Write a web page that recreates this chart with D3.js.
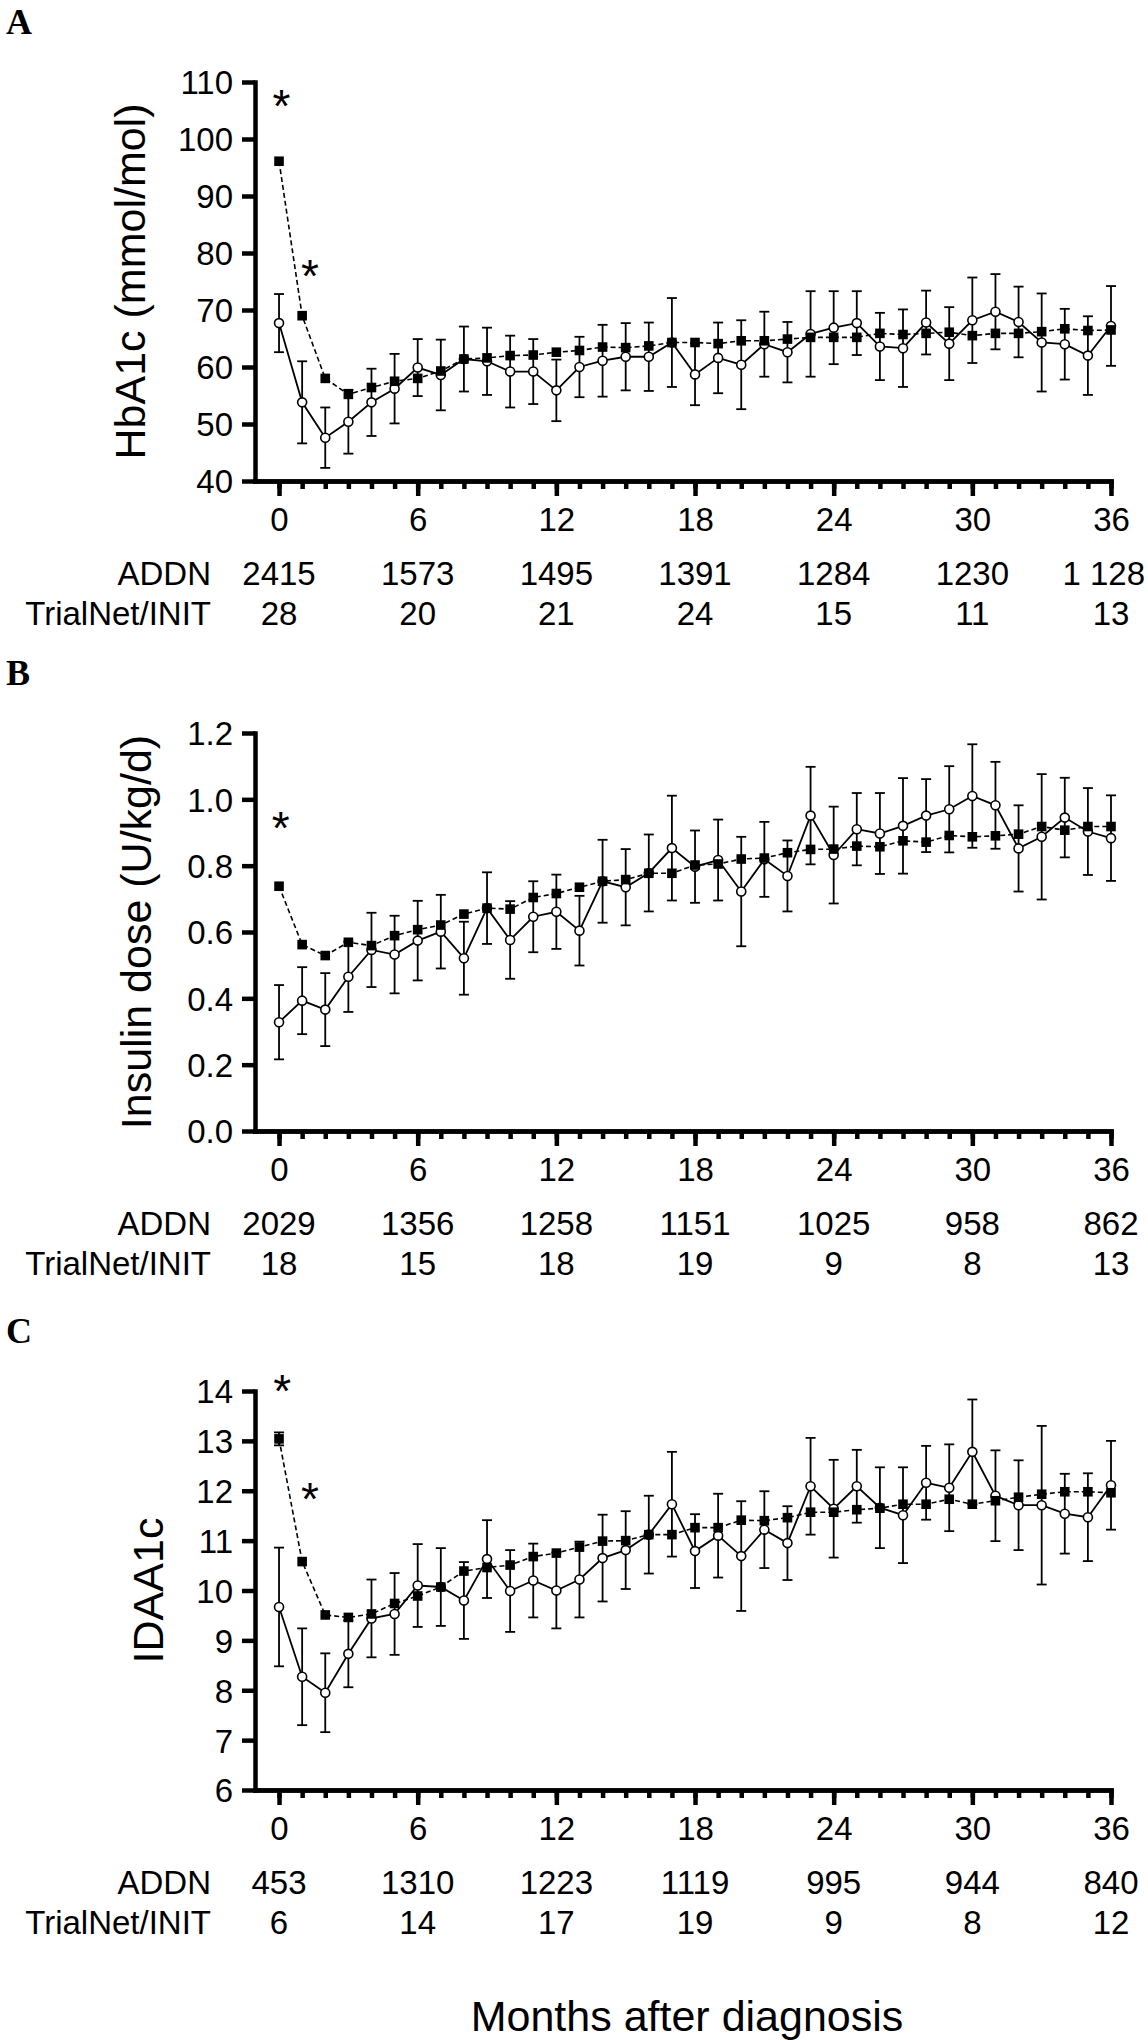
<!DOCTYPE html>
<html>
<head>
<meta charset="utf-8">
<script src="https://cdn.jsdelivr.net/npm/d3@7"></script>
<style>
  html, body { margin: 0; padding: 0; background: #fff; }
  svg { display: block; }
</style>
</head>
<body>
<div id="chart"></div>
<script>
// ---------------- DATA ----------------
const months = [0,1,2,3,4,5,6,7,8,9,10,11,12,13,14,15,16,17,18,19,20,21,22,23,24,25,26,27,28,29,30,31,32,33,34,35,36];
const labelMonths = [0, 6, 12, 18, 24, 30, 36];

// Panel A: HbA1c (mmol/mol)
const hba1cADDN = [96.1,69.0,58.0,55.2,56.4,57.5,58.0,59.3,61.4,61.6,62.0,62.1,62.6,62.9,63.5,63.4,63.7,64.3,64.3,64.1,64.6,64.6,64.9,65.2,65.2,65.2,65.9,65.7,65.9,66.1,65.5,65.9,65.9,66.2,66.7,66.4,66.5];
const hba1cTrial = [67.7,53.8,47.6,50.4,53.8,56.2,59.9,58.6,61.4,61.0,59.2,59.2,55.9,60.0,61.1,61.8,61.8,64.3,58.7,61.6,60.4,64.0,62.6,65.8,66.9,67.7,63.6,63.3,67.8,64.1,68.2,69.7,67.9,64.3,64.0,62.0,67.2];
const hba1cTrialErr = [5.1,7.2,5.3,5.6,5.9,6.1,5.0,6.2,5.7,5.9,6.3,5.7,5.4,5.3,6.3,5.9,6.0,7.8,5.4,6.2,7.8,5.7,5.3,7.5,6.4,5.6,5.9,6.8,5.6,6.4,7.5,6.6,6.2,8.6,6.2,6.9,7.0];
const hba1cADDNErr = [];
const hba1cTicks = [40,50,60,70,80,90,100,110];
const hba1cStars = [[0.1,107.6],[1.34,77.7]];
const hba1cNADDN = ["2415","1573","1495","1391","1284","1230","1 128"];
const hba1cNTrial = ["28","20","21","24","15","11","13"];

// Panel B: Insulin dose (U/kg/d)
const doseADDN = [0.738,0.562,0.529,0.569,0.559,0.589,0.607,0.621,0.654,0.672,0.669,0.704,0.716,0.735,0.753,0.758,0.777,0.777,0.802,0.805,0.820,0.823,0.839,0.849,0.850,0.859,0.857,0.875,0.871,0.891,0.887,0.890,0.895,0.918,0.907,0.918,0.918];
const doseTrial = [0.328,0.393,0.366,0.465,0.546,0.532,0.574,0.601,0.521,0.672,0.576,0.646,0.661,0.604,0.753,0.735,0.778,0.853,0.797,0.817,0.722,0.819,0.769,0.951,0.832,0.910,0.897,0.920,0.951,0.970,1.010,0.982,0.852,0.887,0.945,0.903,0.883];
const doseTrialErr = [0.112,0.101,0.110,0.106,0.112,0.117,0.120,0.111,0.110,0.108,0.117,0.107,0.112,0.105,0.125,0.115,0.116,0.158,0.109,0.122,0.165,0.113,0.107,0.147,0.146,0.109,0.122,0.144,0.110,0.130,0.156,0.131,0.130,0.189,0.120,0.131,0.129];
const doseADDNErr = [];
const doseTicks = [0.0,0.2,0.4,0.6,0.8,1.0,1.2];
const doseStars = [[0.07,0.944]];
const doseNADDN = ["2029","1356","1258","1151","1025","958","862"];
const doseNTrial = ["18","15","18","19","9","8","13"];

// Panel C: IDAA1c
const idaaADDN = [13.04,10.58,9.51,9.46,9.53,9.74,9.89,10.07,10.39,10.46,10.51,10.68,10.75,10.87,10.99,11.00,11.12,11.12,11.26,11.26,11.41,11.40,11.46,11.57,11.57,11.62,11.65,11.73,11.73,11.83,11.73,11.80,11.87,11.93,11.98,11.98,11.96];
const idaaTrial = [9.67,8.27,7.95,8.73,9.44,9.53,10.10,10.07,9.80,10.63,9.99,10.20,10.00,10.22,10.65,10.81,11.12,11.73,10.79,11.10,10.69,11.22,10.95,12.09,11.64,12.09,11.66,11.51,12.16,12.06,12.78,11.90,11.71,11.71,11.54,11.47,12.11];
const idaaTrialErr = [1.19,0.97,0.79,0.67,0.78,0.82,0.83,0.78,0.77,0.78,0.82,0.74,0.76,0.76,0.87,0.78,0.78,1.05,0.74,0.84,1.10,0.77,0.74,0.97,0.98,0.73,0.81,0.96,0.74,0.87,1.05,0.91,0.90,1.59,0.80,0.88,0.89];
const idaaADDNErr = [[0, 0.13]];
const idaaTicks = [6,7,8,9,10,11,12,13,14];
const idaaStars = [[0.14,14.2],[1.34,12.03]];
const idaaNADDN = ["453","1310","1223","1119","995","944","840"];
const idaaNTrial = ["6","14","17","19","9","8","12"];

const rowLabels = ["ADDN", "TrialNet/INIT"];
const xTitle = "Months after diagnosis";

// ---------------- LAYOUT ----------------
const W = 1148, H = 2040;
const FONT = "'Liberation Sans', Arial, Helvetica, sans-serif";
const AX_LEFT = 255, AX_RIGHT = 1111, X_START = -1.04;
const TEXT_RIGHT_LIMIT = 1145;

const panels = [
  { letter: "A", top: 82, bottom: 481, domain: [40, 110], ticks: hba1cTicks, fmt: d3.format("d"),
    title: "HbA1c (mmol/mol)", titleX: 145, addn: hba1cADDN, trial: hba1cTrial, trialErr: hba1cTrialErr,
    addnErr: hba1cADDNErr, stars: hba1cStars, nAddn: hba1cNADDN, nTrial: hba1cNTrial },
  { letter: "B", top: 733, bottom: 1131, domain: [0, 1.2], ticks: doseTicks, fmt: d3.format(".1f"),
    title: "Insulin dose (U/kg/d)", titleX: 151, addn: doseADDN, trial: doseTrial, trialErr: doseTrialErr,
    addnErr: doseADDNErr, stars: doseStars, nAddn: doseNADDN, nTrial: doseNTrial },
  { letter: "C", top: 1391, bottom: 1790, domain: [6, 14], ticks: idaaTicks, fmt: d3.format("d"),
    title: "IDAA1c", titleX: 163, addn: idaaADDN, trial: idaaTrial, trialErr: idaaTrialErr,
    addnErr: idaaADDNErr, stars: idaaStars, nAddn: idaaNADDN, nTrial: idaaNTrial }
];

const svg = d3.select("#chart").append("svg")
  .attr("width", W).attr("height", H)
  .attr("viewBox", `0 0 ${W} ${H}`)
  .style("background", "#fff");

svg.append("rect").attr("width", W).attr("height", H).attr("fill", "#fff");

const x = d3.scaleLinear().domain([X_START, 36]).range([AX_LEFT, AX_RIGHT]);

function styleAxis(sel) {
  sel.selectAll("path.domain").attr("stroke", "#000").attr("stroke-width", 4.5).attr("stroke-linecap", "square");
  sel.selectAll(".tick line").attr("stroke", "#000").attr("stroke-width", 4.5);
  sel.selectAll(".tick text").attr("fill", "#000").style("font-family", FONT).style("font-size", "33px");
}

panels.forEach(p => {
  const g = svg.append("g");
  const y = d3.scaleLinear().domain(p.domain).range([p.bottom, p.top]);

  // panel letter
  g.append("text").attr("x", 6).attr("y", p.top - 48)
    .style("font-family", "'Liberation Serif', 'Times New Roman', serif")
    .style("font-weight", "bold").style("font-size", "36px").text(p.letter);

  // x axis: minor ticks
  const xMinor = g.append("g").attr("transform", `translate(0,${p.bottom})`)
    .call(d3.axisBottom(x).tickValues(months).tickSize(8).tickSizeOuter(0).tickFormat(""));
  styleAxis(xMinor);
  // x axis: major ticks with labels
  const xMajor = g.append("g").attr("transform", `translate(0,${p.bottom})`)
    .call(d3.axisBottom(x).tickValues(labelMonths).tickSize(15).tickSizeOuter(0).tickFormat(d3.format("d")));
  styleAxis(xMajor);
  xMajor.selectAll(".tick text").attr("y", 50).attr("dy", null);

  // y axis
  const yAx = g.append("g").attr("transform", `translate(${AX_LEFT},0)`)
    .call(d3.axisLeft(y).tickValues(p.ticks).tickSize(13).tickSizeOuter(0).tickPadding(9).tickFormat(p.fmt));
  styleAxis(yAx);
  yAx.selectAll(".tick text").attr("dy", "0.36em");

  // y title
  g.append("text")
    .attr("transform", `translate(${p.titleX},${(p.top + p.bottom) / 2}) rotate(-90)`)
    .attr("text-anchor", "middle")
    .style("font-family", FONT).style("font-size", "43px").text(p.title);

  // ---- TrialNet/INIT (open circles, solid line) ----
  const trialPts = months.map((m, i) => ({ m, v: p.trial[i], e: p.trialErr[i] }));
  const eb = g.append("g").attr("stroke", "#000").attr("stroke-width", 1.8).attr("fill", "none");
  trialPts.forEach(d => {
    const cx = x(d.m), y1 = y(d.v + d.e), y2 = y(d.v - d.e);
    eb.append("line").attr("x1", cx).attr("x2", cx).attr("y1", y1).attr("y2", y2);
    eb.append("line").attr("x1", cx - 5).attr("x2", cx + 5).attr("y1", y1).attr("y2", y1);
    eb.append("line").attr("x1", cx - 5).attr("x2", cx + 5).attr("y1", y2).attr("y2", y2);
  });
  const line = d3.line().x(d => x(d.m)).y(d => y(d.v));
  g.append("path").datum(trialPts).attr("d", line)
    .attr("fill", "none").attr("stroke", "#000").attr("stroke-width", 1.8);
  g.append("g").selectAll("circle").data(trialPts).join("circle")
    .attr("cx", d => x(d.m)).attr("cy", d => y(d.v)).attr("r", 4.5)
    .attr("fill", "#fff").attr("stroke", "#000").attr("stroke-width", 1.6);

  // ---- ADDN (filled squares, dashed line) ----
  const addnPts = months.map((m, i) => ({ m, v: p.addn[i] }));
  const eb2 = g.append("g").attr("stroke", "#000").attr("stroke-width", 1.8);
  p.addnErr.forEach(([m, e]) => {
    const v = p.addn[months.indexOf(m)];
    const cx = x(m), y1 = y(v + e), y2 = y(v - e);
    eb2.append("line").attr("x1", cx).attr("x2", cx).attr("y1", y1).attr("y2", y2);
    eb2.append("line").attr("x1", cx - 5).attr("x2", cx + 5).attr("y1", y1).attr("y2", y1);
    eb2.append("line").attr("x1", cx - 5).attr("x2", cx + 5).attr("y1", y2).attr("y2", y2);
  });
  g.append("path").datum(addnPts).attr("d", line)
    .attr("fill", "none").attr("stroke", "#000").attr("stroke-width", 1.6)
    .attr("stroke-dasharray", "5,3");
  g.append("g").selectAll("rect").data(addnPts).join("rect")
    .attr("x", d => x(d.m) - 4.8).attr("y", d => y(d.v) - 4.8)
    .attr("width", 9.6).attr("height", 9.6).attr("fill", "#000");

  // significance stars
  g.append("g").selectAll("text").data(p.stars).join("text")
    .attr("x", d => x(d[0])).attr("y", d => y(d[1]) + 26)
    .attr("text-anchor", "middle")
    .style("font-family", FONT).style("font-size", "46px").text("*");

  // N rows
  const rowY = [p.bottom + 103.5, p.bottom + 143.5];
  [p.nAddn, p.nTrial].forEach((arr, r) => {
    g.append("text").attr("x", 211).attr("y", rowY[r]).attr("text-anchor", "end")
      .style("font-family", FONT).style("font-size", "33px").text(rowLabels[r]);
    g.append("g").selectAll("text").data(arr).join("text")
      .attr("x", (d, i) => x(labelMonths[i])).attr("y", rowY[r])
      .attr("text-anchor", "middle")
      .style("font-family", FONT).style("font-size", "33px").text(d => d)
      .each(function(d, i) {
        // keep labels inside the page on the right
        const w = this.getComputedTextLength();
        const cx = x(labelMonths[i]);
        if (cx + w / 2 > TEXT_RIGHT_LIMIT) d3.select(this).attr("x", TEXT_RIGHT_LIMIT - w / 2);
      });
  });
});

svg.append("text").attr("x", 687).attr("y", 2031).attr("text-anchor", "middle")
  .style("font-family", FONT).style("font-size", "43px").text(xTitle);
</script>
</body>
</html>
